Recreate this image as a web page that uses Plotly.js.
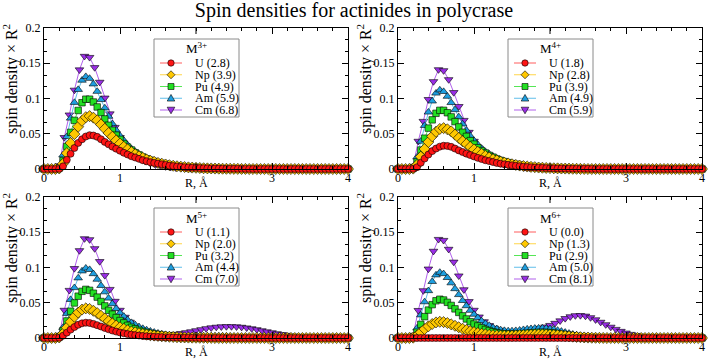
<!DOCTYPE html>
<html><head><meta charset="utf-8">
<script src="https://cdn.plot.ly/plotly-3.0.1.min.js"></script>
<style>html,body{margin:0;padding:0;background:#fff}#chart{width:708px;height:361px}</style>
</head><body><div id="chart"></div>
<script>
// ---- data ----
const R_START = 0;
const R_STEP = 0.05;        // grid of U, Np, Pu, Am
const R_STEP_CM = 1 / 15;   // grid of Cm
const ELEMENTS = ['U', 'Np', 'Pu', 'Am', 'Cm'];
const X_TICKS = [0, 1, 3, 4];
const X_TICKTEXT = ['0', '1', '3', '4'];
const X_UNLABELLED_TICKS = [2];
const Y_TICKS = [0, 0.05, 0.1, 0.15, 0.2];
const Y_TICKTEXT = ['0', '0.05', '0.1', '0.15', '0.2'];
const PANEL_TITLES = ['M<sup>3+</sup>', 'M<sup>4+</sup>', 'M<sup>5+</sup>', 'M<sup>6+</sup>'];
const LABELS_M3 = ['U (2.8)', 'Np (3.9)', 'Pu (4.9)', 'Am (5.9)', 'Cm (6.8)'];
const LABELS_M4 = ['U (1.8)', 'Np (2.8)', 'Pu (3.9)', 'Am (4.9)', 'Cm (5.9)'];
const LABELS_M5 = ['U (1.1)', 'Np (2.0)', 'Pu (3.2)', 'Am (4.4)', 'Cm (7.0)'];
const LABELS_M6 = ['U (0.0)', 'Np (1.3)', 'Pu (2.9)', 'Am (5.0)', 'Cm (8.1)'];

// M3+
const M3_U = [0,0,0,0,
.0002,.0038,.013,.0216,.0298,.037,.0422,.0461,.048,.0475,
.0456,.0422,.0384,.035,.0317,.0288,.0259,.023,.0206,.0182,
.0163,.0144,.0125,.011,.0096,.0086,.0077,.0067,.0058,.0048,
.0042,.0036,.0031,.0026,.0023,.0019,.0016,.0014,.0012,.001,
.0008,.0007,.0006,.0005,.0004,.0003,.0003,.0002,.0002,.0001,
.0001,0,0,0,0,0,0,0,0,0,
0,0,0,0,0,0,0,0,0,0,
0,0,0,0,0,0,0];
const M3_Np = [0,0,0,0,
.0008,.0075,.0225,.0368,.0495,.06,.0683,.0735,.075,.0728,
.069,.063,.057,.051,.0458,.0405,.036,.0315,.0278,.024,
.021,.018,.0158,.0135,.0116,.0101,.0086,.0075,.0064,.0054,
.0046,.0039,.0033,.0028,.0023,.002,.0017,.0014,.0011,.0009,
.0008,.0006,.0005,.0004,.0003,.0003,.0002,.0002,.0001,.0001,
0,0,0,0,0,0,0,0,0,0,
0,0,0,0,0,0,0,0,0,0,
0,0,0,0,0,0,0];
const M3_Pu = [0,0,0,0,
.0015,.012,.032,.052,.069,.083,.094,.099,.099,.095,
.088,.08,.071,.062,.055,.048,.042,.036,.031,.027,
.023,.02,.017,.0145,.0125,.0107,.0091,.0078,.0066,.0056,
.0047,.004,.0033,.0028,.0023,.0019,.0016,.0013,.001,.0008,
.0007,.0005,.0004,.0003,.0002,.0002,.0001,.0001,0,0,
0,0,0,0,0,0,0,0,0,0,
0,0,0,0,0,0,0,0,0,0,
0,0,0,0,0,0,0];
const M3_Am = [0,0,0,0,
.0026,.0197,.0459,.072,.0943,.1127,.1258,.131,.1284,.1205,
.11,.0983,.0865,.0747,.0642,.055,.0472,.0406,.0341,.0288,
.0249,.021,.0177,.0151,.0127,.0107,.009,.0076,.0063,.0052,
.0043,.0035,.0029,.0024,.002,.0016,.0013,.001,.0008,.0007,
.0005,.0004,.0003,.0003,.0001,0,0,0,0,0,
0,0,0,0,0,0,0,0,0,0,
0,0,0,0,0,0,0,0,0,0,
0,0,0,0,0,0,0];
const M3_Cm = [0,0,0,.0048,.0448,.0768,.112,.1408,.16,.1584,
.144,.1232,.1008,.0784,.0592,.0448,.0336,.0256,.0192,.0144,
.0109,.0082,.0061,.0045,.0034,.0026,.0019,.0014,.0011,.0008,
.0006,0,0,0,0,0,0,0,0,0,
0,0,0,0,0,0,0,0,0,0,
0,0,0,0,0,0,0,0,0,0,
0];

// M4+
const M4_U = [0,0,0,0,
.0002,.0026,.0089,.0149,.0205,.0254,.029,.0317,.033,.0327,
.0314,.029,.0264,.0241,.0218,.0198,.0178,.0158,.0142,.0125,
.0112,.0099,.0086,.0076,.0066,.0059,.0053,.0046,.004,.0033,
.0029,.0025,.0021,.0018,.0016,.0013,.0011,.001,.0008,.0007,
.0006,.0005,.0004,.0003,.0003,.0002,.0002,.0001,.0001,0,
0,0,0,0,0,0,0,0,0,0,
0,0,0,0,0,0,0,0,0,0,
0,0,0,0,0,0,0];
const M4_Np = [0,0,0,0,
.0006,.0058,.0174,.0284,.0383,.0464,.0528,.0568,.058,.0563,
.0534,.0487,.0441,.0394,.0354,.0313,.0278,.0244,.0215,.0186,
.0162,.0139,.0122,.0104,.009,.0078,.0067,.0058,.0049,.0042,
.0035,.003,.0026,.0021,.0018,.0015,.0013,.001,.0009,.0007,
.0006,.0005,.0003,.0003,.0002,.0001,0,0,0,0,
0,0,0,0,0,0,0,0,0,0,
0,0,0,0,0,0,0,0,0,0,
0,0,0,0,0,0,0];
const M4_Pu = [0,0,0,0,
.0013,.0101,.0269,.0437,.058,.0697,.079,.0832,.0832,.0798,
.0739,.0672,.0596,.0521,.0462,.0403,.0353,.0302,.026,.0227,
.0193,.0168,.0143,.0122,.0105,.009,.0076,.0066,.0055,.0047,
.0039,.0034,.0028,.0024,.0019,.0016,.0013,.0011,.0008,.0007,
.0006,.0004,.0003,.0003,.0002,.0001,0,0,0,0,
0,0,0,0,0,0,0,0,0,0,
0,0,0,0,0,0,0,0,0,0,
0,0,0,0,0,0,0];
const M4_Am = [0,0,0,0,
.0022,.0168,.0392,.0616,.0806,.0963,.1075,.112,.1098,.103,
.0941,.084,.0739,.0638,.0549,.047,.0403,.0347,.0291,.0246,
.0213,.0179,.0151,.0129,.0109,.0092,.0077,.0065,.0054,.0045,
.0037,.003,.0025,.002,.0017,.0013,.0011,.0009,.0007,.0006,
.0004,.0003,.0002,.0002,.0001,0,0,0,0,0,
0,0,0,0,0,0,0,0,0,0,
0,0,0,0,0,0,0,0,0,0,
0,0,0,0,0,0,0];
const M4_Cm = [0,0,0,.0042,.0395,.0677,.0987,.1241,.141,.1396,
.1269,.1086,.0888,.0691,.0522,.0395,.0296,.0226,.0169,.0127,
.0096,.0072,.0054,.0039,.003,.0023,.0017,.0013,.001,.0007,
.0006,0,0,0,0,0,0,0,0,0,
0,0,0,0,0,0,0,0,0,0,
0,0,0,0,0,0,0,0,0,0,
0];

// M5+
const M5_U = [0,0,0,0,
.0004,.0033,.0076,.0119,.0156,.0187,.0208,.0217,.0213,.02,
.0182,.0163,.0143,.0124,.0106,.0091,.0078,.0067,.0056,.0048,
.0041,.0035,.0029,.0025,.0021,.0018,.0015,.0013,.001,.0009,
.0007,.0006,.0005,.0004,.0003,.0003,.0002,0,0,0,
0,0,0,0,0,0,0,0,0,0,
0,0,0,0,0,0,0,0,0,0,
0,0,0,0,0,0,0,0,0,0,
0,0,0,0,0,0,0];
const M5_Np = [0,0,0,0,
.0008,.0063,.0147,.0231,.0302,.0361,.0403,.042,.0412,.0386,
.0353,.0315,.0277,.0239,.0206,.0176,.0151,.013,.0109,.0092,
.008,.0067,.0057,.0048,.0041,.0034,.0029,.0024,.002,.0017,
.0014,.0011,.0009,.0008,.0006,.0005,.0004,.0003,.0003,.0002,
.0002,0,0,0,0,0,0,0,0,0,
0,0,0,0,0,0,0,0,0,0,
0,0,0,0,0,0,0,0,0,0,
0,0,0,0,0,0,0];
const M5_Pu = [0,0,0,0,
.0014,.0104,.0242,.038,.0497,.0593,.0662,.069,.0676,.0635,
.058,.0518,.0455,.0393,.0338,.029,.0248,.0214,.0179,.0152,
.0131,.011,.0093,.0079,.0067,.0057,.0048,.004,.0033,.0028,
.0023,.0019,.0015,.0012,.001,.0008,.0007,.0006,.0005,.0004,
.0003,.0003,.0002,.0002,.0001,0,0,0,0,0,
0,0,0,0,0,0,0,0,0,0,
0,0,0,0,0,0,0,0,0,0,
0,0,0,0,0,0,0];
const M5_Am = [0,0,0,0,
.002,.0149,.0347,.0545,.0713,.0851,.095,.099,.097,.0911,
.0832,.0743,.0653,.0564,.0485,.0416,.0356,.0307,.0257,.0218,
.0188,.0158,.0134,.0114,.0096,.0081,.0068,.0057,.0048,.004,
.0033,.0027,.0023,.0021,.002,.002,.0021,.0022,.0023,.0024,
.0025,.0025,.0025,.0024,.0023,.0021,.0019,.0017,.0015,.0013,
.0011,.0009,.0007,.0006,.0005,.0004,.0003,.0002,.0002,.0001,
0,0,0,0,0,0,0,0,0,0,
0,0,0,0,0,0,0];
const M5_Cm = [0,0,0,.0042,.0395,.0677,.0987,.1241,.141,.1396,
.1269,.1086,.0888,.0691,.0522,.0395,.0296,.0226,.0169,.0127,
.0096,.0074,.0058,.0049,.0045,.0047,.0054,.0064,.0077,.009,
.0105,.012,.0134,.0146,.0155,.016,.0163,.0163,.016,.0154,
.0145,.0133,.012,.0105,.009,.0076,.0063,.005,.004,.0031,
.0024,.0018,.0013,.001,.0007,.0005,.0003,.0002,.0001,0,
0];

// M6+
const M6_U = [0,0,0,0,
0,0,0,0,0,0,0,0,0,0,
0,0,0,0,0,0,0,0,0,0,
0,0,0,0,0,0,0,0,0,0,
0,0,0,0,0,0,0,0,0,0,
0,0,0,0,0,0,0,0,0,0,
0,0,0,0,0,0,0,0,0,0,
0,0,0,0,0,0,0,0,0,0,
0,0,0,0,0,0,0];
const M6_Np = [0,0,0,0,
.0005,.0035,.0081,.0127,.0166,.0198,.0221,.023,.0225,.0212,
.0193,.0173,.0152,.0131,.0113,.0097,.0083,.0071,.006,.0051,
.0044,.0039,.0035,.0033,.0032,.0032,.0033,.0035,.0037,.004,
.0043,.0046,.0048,.005,.005,.0049,.0047,.0043,.0039,.0034,
.0029,.0024,.0019,.0015,.0011,.0008,.0006,.0004,.0003,.0002,
.0001,0,0,0,0,0,0,0,0,0,
0,0,0,0,0,0,0,0,0,0,
0,0,0,0,0,0,0];
const M6_Pu = [0,0,0,0,
.0011,.0083,.0193,.0303,.0396,.0473,.0528,.055,.0539,.0506,
.0462,.0413,.0363,.0314,.027,.0231,.0198,.0171,.0143,.0121,
.0105,.0088,.0076,.0067,.006,.0056,.0055,.0056,.0059,.0063,
.0068,.0073,.0077,.008,.0081,.008,.0076,.007,.0062,.0054,
.0045,.0037,.003,.0023,.0018,.0013,.001,.0007,.0005,.0003,
.0002,.0001,0,0,0,0,0,0,0,0,
0,0,0,0,0,0,0,0,0,0,
0,0,0,0,0,0,0];
const M6_Am = [0,0,0,0,
.0019,.014,.0326,.0512,.067,.08,.0893,.093,.0911,.0856,
.0781,.0698,.0614,.053,.0456,.0391,.0335,.0288,.0242,.0205,
.0177,.0149,.013,.0115,.0105,.01,.01,.0104,.011,.0118,
.0126,.0132,.0137,.014,.014,.0137,.013,.012,.0108,.0094,
.008,.0066,.0053,.0042,.0033,.0025,.0019,.0014,.001,.0007,
.0005,.0003,.0002,.0001,0,0,0,0,0,0,
0,0,0,0,0,0,0,0,0,0,
0,0,0,0,0,0,0];
const M6_Cm = [0,0,0,.0042,.0392,.0672,.098,.1232,.14,.1386,
.126,.1078,.0882,.0686,.0518,.0395,.03,.0232,.0178,.014,
.0112,.0093,.0082,.0079,.0082,.009,.0103,.012,.0138,.0158,
.018,.021,.0245,.0278,.0303,.0318,.032,.0312,.029,.026,
.0225,.019,.0155,.0124,.0096,.0072,.0053,.0038,.0027,.0019,
.0013,.0009,.0006,.0004,.0003,.0002,.0001,0,0,0,
0];

// ---- style ----
const FONT = '"Liberation Serif", "Times New Roman", Times, serif';
const W = 708, H = 361;
const STYLE = {
  U:  {symbol: 'circle',        size: 7,   color: '#ff1414', line: '#ff5c5c'},
  Np: {symbol: 'diamond',       size: 8.5, color: '#ffc800', line: '#ffd54a'},
  Pu: {symbol: 'square',        size: 6.5, color: '#22e022', line: '#55e655'},
  Am: {symbol: 'triangle-up',   size: 7.5, color: '#1e9fe0', line: '#60bfea'},
  Cm: {symbol: 'triangle-down', size: 7.5, color: '#9a2ee6', line: '#b160ec'}
};
const panels = [
  {n: 1, left: 44,  right: 348, top: 28,  bottom: 169, title: PANEL_TITLES[0], labels: LABELS_M3, series: [M3_U, M3_Np, M3_Pu, M3_Am, M3_Cm]},
  {n: 2, left: 398, right: 702, top: 28,  bottom: 169, title: PANEL_TITLES[1], labels: LABELS_M4, series: [M4_U, M4_Np, M4_Pu, M4_Am, M4_Cm]},
  {n: 3, left: 44,  right: 348, top: 197, bottom: 338, title: PANEL_TITLES[2], labels: LABELS_M5, series: [M5_U, M5_Np, M5_Pu, M5_Am, M5_Cm]},
  {n: 4, left: 398, right: 702, top: 197, bottom: 338, title: PANEL_TITLES[3], labels: LABELS_M6, series: [M6_U, M6_Np, M6_Pu, M6_Am, M6_Cm]}
];
const px = p => p / W;
const py = p => 1 - p / H;

const traces = [];
const layout = {
  width: W, height: H, autosize: false,
  margin: {l: 0, r: 0, t: 0, b: 0},
  paper_bgcolor: '#fff', plot_bgcolor: '#fff',
  showlegend: false,
  font: {family: FONT, size: 12, color: '#000'},
  title: {text: 'Spin densities for actinides in polycrase', font: {family: FONT, size: 20, color: '#000'},
          x: 0.5, xanchor: 'center', xref: 'container', y: 1 - 10 / H, yanchor: 'middle', yref: 'container'},
  shapes: [], annotations: []
};

panels.forEach(p => {
  const sx = p.n === 1 ? '' : String(p.n);
  for (let e = 4; e >= 0; e--) {
    const el = ELEMENTS[e], st = STYLE[el];
    traces.push({
      type: 'scatter', mode: 'lines+markers', name: p.labels[e],
      x0: R_START, dx: el === 'Cm' ? R_STEP_CM : R_STEP, y: p.series[e],
      xaxis: 'x' + sx, yaxis: 'y' + sx, cliponaxis: false,
      line: {color: st.line, width: 1},
      marker: {symbol: st.symbol, size: st.size, color: st.color, line: {color: '#000', width: 0.6}},
      hoverinfo: 'skip'
    });
  }
  const common = {
    ticks: 'inside', ticklen: 6, tickwidth: 1, tickcolor: '#000',
    showline: true, linecolor: '#000', linewidth: 1, mirror: 'allticks',
    showgrid: false, zeroline: false, fixedrange: true,
    tickfont: {family: FONT, size: 12, color: '#000'}
  };
  layout['xaxis' + sx] = Object.assign({}, common, {
    domain: [px(p.left), px(p.right)], anchor: 'y' + sx, range: [0, 4],
    tickmode: 'array', tickvals: X_TICKS, ticktext: X_TICKTEXT, ticklabelstandoff: -2,
    minor: {tickmode: 'linear', tick0: 0, dtick: 0.2, ticks: 'inside', ticklen: 3, tickcolor: '#000', showgrid: false}
  });
  layout['yaxis' + sx] = Object.assign({}, common, {
    domain: [py(p.bottom), py(p.top)], anchor: 'x' + sx, range: [0, 0.2],
    tickmode: 'array', tickvals: Y_TICKS, ticktext: Y_TICKTEXT,
    minor: {tickmode: 'linear', tick0: 0, dtick: 0.0166667, ticks: 'inside', ticklen: 3, tickcolor: '#000', showgrid: false}
  });
  // unlabelled major tick (its label is hidden under the axis title)
  X_UNLABELLED_TICKS.forEach(t => {
    [[p.bottom, 6], [p.top, -6]].forEach(([edge, len]) => {
      layout.shapes.push({type: 'line', xref: 'x' + sx, yref: 'paper', ysizemode: 'pixel', yanchor: py(edge),
        x0: t, x1: t, y0: 0, y1: len, line: {color: '#000', width: 1}, layer: 'above'});
    });
  });
  layout.annotations.push({
    text: 'spin density × R<sup>2</sup>', textangle: -90, showarrow: false, borderpad: 0,
    xref: 'paper', yref: 'paper', x: px(p.left - 34), y: py(p.top + 51),
    xanchor: 'center', yanchor: 'middle', font: {family: FONT, size: 16, color: '#000'}
  });
  layout.annotations.push({
    text: 'R, Å', showarrow: false, borderpad: 0, xref: 'x' + sx, yref: 'paper', x: 2, y: py(p.bottom + 14),
    xanchor: 'center', yanchor: 'middle', font: {family: FONT, size: 12, color: '#000'}
  });
  const bl = p.left + 110, bt = p.top + 11, bw = 85, bh = 78;
  layout.shapes.push({type: 'rect', xref: 'paper', yref: 'paper', x0: px(bl), x1: px(bl + bw), y0: py(bt + bh), y1: py(bt),
    line: {color: '#8a8a8a', width: 1}, fillcolor: '#fff', layer: 'above'});
  layout.annotations.push({text: p.title, showarrow: false, borderpad: 0, xref: 'paper', yref: 'paper',
    x: px(bl + bw / 2), y: py(bt + 9.5), xanchor: 'center', yanchor: 'middle', font: {family: FONT, size: 13, color: '#000'}});
  for (let e = 0; e < 5; e++) {
    const el = ELEMENTS[e], st = STYLE[el];
    const ry = bt + 24 + e * 11.75, mx = bl + 17;
    layout.shapes.push({type: 'line', xref: 'paper', yref: 'paper', x0: px(bl + 6), x1: px(bl + 28), y0: py(ry), y1: py(ry),
      line: {color: st.line, width: 1}, layer: 'above'});
    const g = {xref: 'paper', yref: 'paper', xsizemode: 'pixel', ysizemode: 'pixel', xanchor: px(mx), yanchor: py(ry),
      fillcolor: st.color, line: {color: '#000', width: 0.6}, layer: 'above'};
    if (el === 'U') Object.assign(g, {type: 'circle', x0: -3.2, x1: 3.2, y0: -3.2, y1: 3.2});
    else if (el === 'Pu') Object.assign(g, {type: 'rect', x0: -3, x1: 3, y0: -3, y1: 3});
    else if (el === 'Np') Object.assign(g, {type: 'path', path: 'M-4,0L0,4L4,0L0,-4Z'});
    else if (el === 'Am') Object.assign(g, {type: 'path', path: 'M-3.8,-2.8L3.8,-2.8L0,3.8Z'});
    else Object.assign(g, {type: 'path', path: 'M-3.8,2.8L3.8,2.8L0,-3.8Z'});
    layout.shapes.push(g);
    layout.annotations.push({text: p.labels[e], showarrow: false, borderpad: 0, xref: 'paper', yref: 'paper',
      x: px(bl + 40), y: py(ry), xanchor: 'left', yanchor: 'middle', font: {family: FONT, size: 12, color: '#000'}});
  }
});

Plotly.newPlot('chart', traces, layout, {staticPlot: true, displayModeBar: false});
</script>
</body></html>
